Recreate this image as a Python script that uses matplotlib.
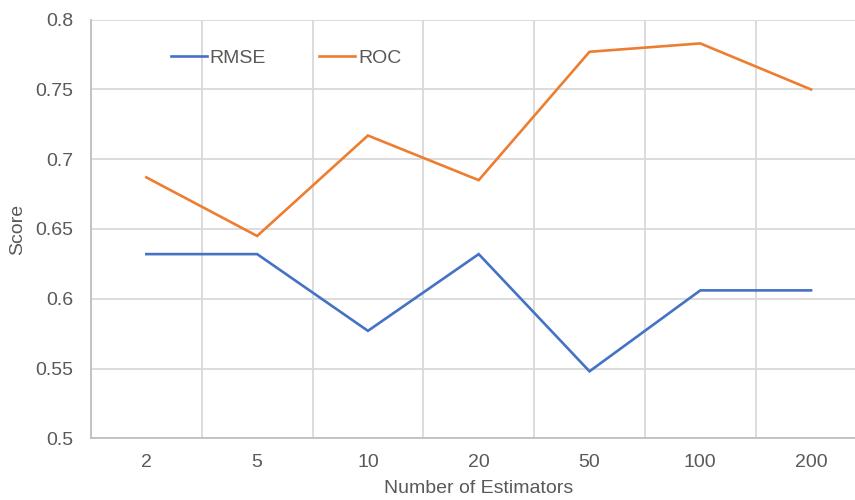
import numpy as np
import matplotlib
matplotlib.use("Agg")
import matplotlib.pyplot as plt

plt.rcParams['font.family'] = ['Liberation Sans', 'DejaVu Sans']

categories = ["2", "5", "10", "20", "50", "100", "200"]
rmse = [0.632, 0.632, 0.577, 0.632, 0.548, 0.606, 0.606]
roc = [0.687, 0.645, 0.717, 0.685, 0.777, 0.783, 0.750]
y_ticks = [0.5, 0.55, 0.6, 0.65, 0.7, 0.75, 0.8]
y_tick_labels = ["0.5", "0.55", "0.6", "0.65", "0.7", "0.75", "0.8"]

text_color = "#595959"
grid_color = "#d9d9d9"
fs = 14

fig = plt.figure(figsize=(8.55, 5.0), dpi=100)
ax = fig.add_axes([0.1064, 0.1234, 0.907, 0.8372])

x = np.arange(len(categories))
ax.plot(x, rmse, color="#4472C4", lw=1.9, label="RMSE", solid_joinstyle="miter")
ax.plot(x, roc, color="#ED7D31", lw=1.9, label="ROC", solid_joinstyle="miter")

ax.set_xlim(-0.5, len(categories) - 0.5)
ax.set_ylim(0.5, 0.8)
ax.set_yticks(y_ticks)
ax.set_yticklabels(y_tick_labels)
ax.set_xticks(x)
ax.set_xticklabels(categories)
ax.set_xticks(np.arange(-0.5, len(categories)), minor=True)

ax.tick_params(axis="both", which="both", length=0, labelsize=fs, labelcolor=text_color)
ax.tick_params(axis="y", pad=13)
ax.tick_params(axis="x", pad=11)

ax.grid(axis="y", which="major", color=grid_color, lw=1.3)
ax.grid(axis="x", which="minor", color=grid_color, lw=1.3)
ax.set_axisbelow(True)

for side in ["top", "right"]:
    ax.spines[side].set_visible(False)
for side in ["left", "bottom"]:
    ax.spines[side].set_color("#bfbfbf")
    ax.spines[side].set_linewidth(1.3)

ax.set_xlabel("Number of Estimators", fontsize=fs, color=text_color, va="center")
ax.set_ylabel("Score", fontsize=fs, color=text_color, va="center")
ax.xaxis.set_label_coords(0.5, -0.121)
ax.yaxis.set_label_coords(-0.094, 0.5)

leg = ax.legend(loc="center left", bbox_to_anchor=(0.1028, 0.909), ncol=2,
                frameon=False, fontsize=fs, handlelength=1.85, handletextpad=0.15,
                columnspacing=2.75, borderaxespad=0, borderpad=0)
for t in leg.get_texts():
    t.set_color(text_color)

fig.savefig("out.png", dpi=100)
